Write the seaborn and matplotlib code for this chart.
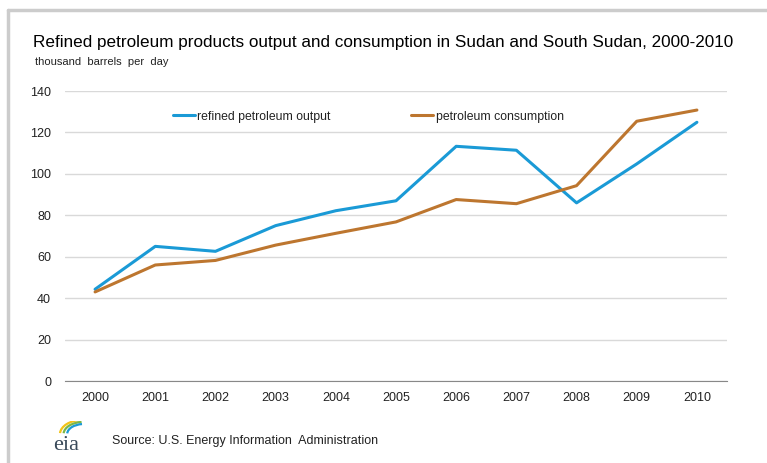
import numpy as np
import pandas as pd
import seaborn as sns
import matplotlib.pyplot as plt
from matplotlib.patches import Arc

# data (thousand barrels per day)
years = ['2000', '2001', '2002', '2003', '2004', '2005',
         '2006', '2007', '2008', '2009', '2010']
refined_output = [44.3, 65.0, 62.6, 75.0, 82.2, 87.0,
                  113.3, 111.4, 86.0, 104.8, 124.9]
consumption = [43.0, 56.0, 58.2, 65.6, 71.3, 76.8,
               87.6, 85.6, 94.3, 125.4, 130.8]
series_names = ['refined petroleum output', 'petroleum consumption']
series_colors = ['#1a9ad6', '#bd762f']

df = pd.DataFrame({
    'pos': list(range(len(years))) * 2,
    'value': refined_output + consumption,
    'series': [series_names[0]] * len(years) + [series_names[1]] * len(years),
})

sns.set_style('white')
plt.rcParams['font.family'] = ['Liberation Sans', 'DejaVu Sans']

fig = plt.figure(figsize=(7.67, 4.63), dpi=100)
ax = fig.add_axes([65 / 767, 82 / 463, 662 / 767, 290 / 463])

sns.lineplot(data=df, x='pos', y='value', hue='series',
             palette=series_colors, linewidth=2.2, ax=ax)

# axis scales
ax.set_xlim(-0.5, len(years) - 0.5)
ax.set_ylim(0, 140)
ax.set_yticks(np.arange(0, 141, 20))
ax.set_xticks(range(len(years)))
ax.set_xticklabels(years)
ax.set_xticks(np.arange(-0.5, len(years), 1), minor=True)
ax.tick_params(axis='x', which='major', length=0, pad=8, labelsize=9, colors='#222222')
ax.tick_params(axis='x', which='minor', length=4, width=0.8, color='#888888')
ax.tick_params(axis='y', length=0, pad=10, labelsize=9, colors='#222222')
ax.set_xlabel('')
ax.set_ylabel('')

# gridlines
ax.grid(axis='y', color='#d9d9d9', linewidth=1)
ax.grid(axis='x', visible=False)
ax.set_axisbelow(True)
for s in ['top', 'right', 'left']:
    ax.spines[s].set_visible(False)
ax.spines['bottom'].set_color('#888888')
ax.spines['bottom'].set_linewidth(0.8)

# legend
leg = ax.legend(loc='upper center', bbox_to_anchor=(0.458, 0.97), ncol=2,
                frameon=False, fontsize=8.8, handlelength=1.8, handletextpad=0.2,
                columnspacing=6.6)
for t in leg.get_texts():
    t.set_color('#222222')

# titles
fig.text(33 / 767, 1 - 43 / 463, 'Refined petroleum products output and consumption in Sudan and South Sudan, 2000-2010',
         fontsize=12.3, va='center', ha='left', color='#000000')
fig.text(35 / 767, 1 - 62 / 463, 'thousand  barrels  per  day',
         fontsize=8, va='center', ha='left', color='#222222')
fig.text(112 / 767, 1 - 441 / 463, 'Source: U.S. Energy Information  Administration',
         fontsize=9, va='center', ha='left', color='#222222')

# eia logo
fig.text(66 / 767, 1 - 445 / 463, 'eia', fontsize=16, family='Liberation Serif',
         ha='center', va='center', color='#3a4a5a')
logo_ax = fig.add_axes([54 / 767, 1 - 434 / 463, 30 / 767, 13 / 463])
logo_ax.set_xlim(0, 1)
logo_ax.set_ylim(0, 1)
logo_ax.axis('off')
for r, c in [(1.0, '#f2c318'), (0.85, '#7ab648'), (0.7, '#1a9ad6')]:
    logo_ax.add_patch(Arc((1.0, 0.0), r * 1.6, r * 2.2, theta1=95, theta2=175,
                          color=c, lw=1.6))

# page border
border = fig.add_axes([0, 0, 1, 1], facecolor='none')
border.set_xlim(0, 767)
border.set_ylim(463, 0)
border.axis('off')
border.plot([8, 767], [10, 10], color='#cccccc', lw=2.5)
border.plot([8, 8], [10, 463], color='#cccccc', lw=2.5)

fig.savefig('out.png', dpi=100)
